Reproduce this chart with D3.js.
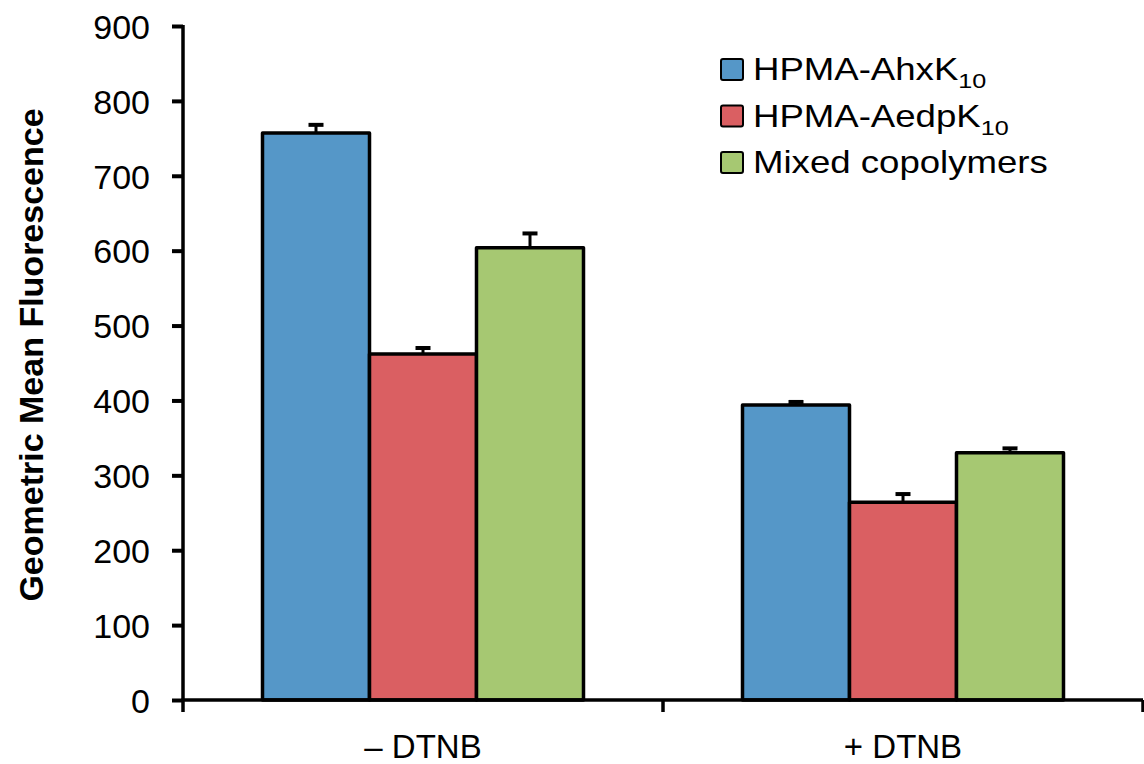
<!DOCTYPE html>
<html>
<head>
<meta charset="utf-8">
<script src="https://cdn.jsdelivr.net/npm/d3@7"></script>
<style>
  html, body { margin: 0; padding: 0; background: #fff; }
  svg { display: block; font-family: "Liberation Sans", Arial, Helvetica, sans-serif; }
</style>
</head>
<body>
<svg id="chart" width="1144" height="764"></svg>
<script>
// ---- data ----
const categories = ["\u2013 DTNB", "+ DTNB"];
const seriesNames = ["HPMA-AhxK", "HPMA-AedpK", "Mixed copolymers"];
const seriesSubs = ["10", "10", ""];
const seriesColors = ["#5597C8", "#DA5F62", "#A6C872"];
const ahxValues = [757, 394];
const ahxErrors = [11, 4];
const aedpValues = [462, 264];
const aedpErrors = [8, 11];
const mixedValues = [604, 330];
const mixedErrors = [19, 6];
const yTicks = [0, 100, 200, 300, 400, 500, 600, 700, 800, 900];
const yTitle = "Geometric Mean Fluorescence";

const seriesValues = [ahxValues, aedpValues, mixedValues];
const seriesErrors = [ahxErrors, aedpErrors, mixedErrors];

// ---- layout ----
const svg = d3.select("#chart");
const plotLeft = 183, plotRight = 1143, plotTop = 26, plotBottom = 700;
const stroke = 3.5;

const x0 = d3.scaleBand().domain(categories).range([plotLeft, plotRight]).paddingInner(0).paddingOuter(0);
const x1 = d3.scaleBand().domain(d3.range(seriesNames.length)).range([0, x0.bandwidth()])
  .paddingInner(0).paddingOuter(0.743);
const y = d3.scaleLinear().domain([0, 900]).range([plotBottom, plotTop]);

// bars
const groups = svg.append("g").selectAll("g").data(categories).join("g")
  .attr("transform", d => `translate(${x0(d)},0)`);

groups.each(function(cat, ci) {
  const g = d3.select(this);
  seriesNames.forEach((s, si) => {
    const v = seriesValues[si][ci];
    const e = seriesErrors[si][ci];
    const bx = x1(si), bw = x1.bandwidth();
    const cx = bx + bw / 2;
    g.append("line").attr("x1", cx).attr("x2", cx).attr("y1", y(v)).attr("y2", y(v + e))
      .attr("stroke", "#000").attr("stroke-width", 3);
    g.append("line").attr("x1", cx - 7.5).attr("x2", cx + 7.5).attr("y1", y(v + e)).attr("y2", y(v + e))
      .attr("stroke", "#000").attr("stroke-width", 4);
    g.append("rect").attr("x", bx).attr("y", y(v)).attr("width", bw).attr("height", y(0) - y(v))
      .attr("fill", seriesColors[si]).attr("stroke", "#000").attr("stroke-width", stroke)
      .attr("stroke-linejoin", "round");
  });
});

// y axis
const yAxis = d3.axisLeft(y).tickValues(yTicks).tickSize(11).tickSizeOuter(0).tickPadding(22);
const yg = svg.append("g").attr("transform", `translate(${plotLeft},0)`).call(yAxis);
yg.select(".domain").attr("stroke-width", stroke).attr("d", `M0,${plotTop - 1}V${plotBottom}`);
yg.selectAll(".tick line").attr("stroke-width", 4);
yg.selectAll(".tick text").attr("font-size", 34).attr("fill", "#000")
  .attr("font-family", "Liberation Sans, Arial, sans-serif").attr("dy", "0.36em");

// x axis
const xg = svg.append("g");
xg.append("line").attr("x1", plotLeft - 1.5).attr("x2", plotRight).attr("y1", plotBottom).attr("y2", plotBottom)
  .attr("stroke", "#000").attr("stroke-width", stroke);
const edges = [x0(categories[0])].concat(categories.map(c => x0(c) + x0.bandwidth()));
xg.selectAll("line.tk").data(edges).join("line").attr("class", "tk")
  .attr("x1", d => d).attr("x2", d => d).attr("y1", plotBottom).attr("y2", plotBottom + 12)
  .attr("stroke", "#000").attr("stroke-width", 3.5);
xg.selectAll("text").data(categories).join("text")
  .attr("x", d => x0(d) + x0.bandwidth() / 2).attr("y", 758)
  .attr("text-anchor", "middle").attr("font-size", 33).attr("fill", "#000").text(d => d);

// y title
svg.append("text").attr("transform", "translate(43,355) rotate(-90)")
  .attr("text-anchor", "middle").attr("font-weight", "bold").attr("font-size", 34)
  .attr("fill", "#000").text(yTitle);

// legend
const leg = svg.append("g");
seriesNames.forEach((s, i) => {
  const ry = 59 + i * 46.5;
  leg.append("rect").attr("x", 721).attr("y", ry).attr("width", 22).attr("height", 21)
    .attr("rx", 2).attr("fill", seriesColors[i]).attr("stroke", "#000").attr("stroke-width", 2);
  const t = leg.append("text").attr("transform", `translate(753,${ry + 21}) scale(1.2,1)`)
    .attr("font-size", 30.5).attr("fill", "#000");
  t.append("tspan").text(s);
  if (seriesSubs[i]) t.append("tspan").attr("font-size", 21).attr("dy", 8).text(seriesSubs[i]);
});
</script>
</body>
</html>
